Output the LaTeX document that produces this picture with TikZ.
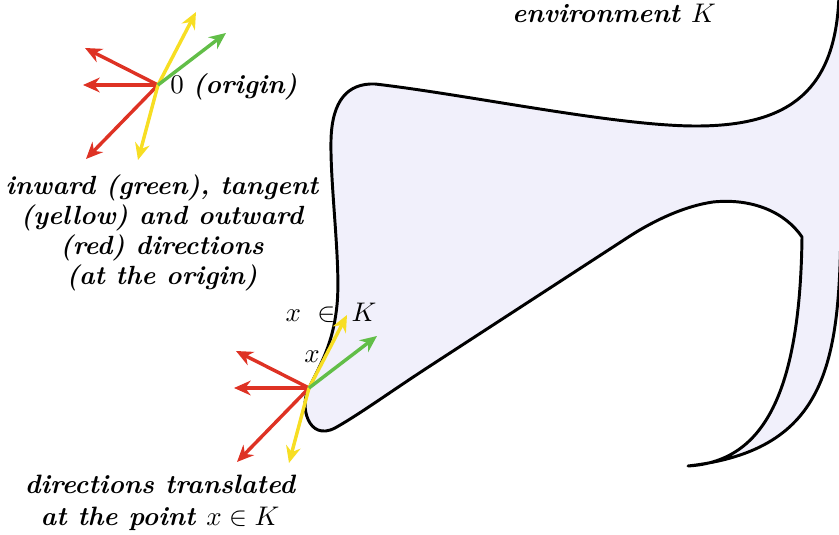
\documentclass[tikz,border=0pt]{standalone}
\usepackage{amsmath}
\usepackage{amssymb}
\usetikzlibrary{arrows.meta}
\definecolor{kred}{RGB}{222,50,36}
\definecolor{kyel}{RGB}{247,222,35}
\definecolor{kgrn}{RGB}{98,190,72}
\definecolor{kfill}{RGB}{241,240,251}
\tikzset{
  kdir/.style={line width=1.4pt,-{Stealth[length=6.8pt,width=6pt]}},
  kout/.style={kdir,kred},
  ktan/.style={kdir,kyel},
  kin/.style={kdir,kgrn},
  kbound/.style={line width=1.2pt,fill=kfill,line join=round},
  kfont/.style={font=\fontsize{10.8}{12.3}\selectfont},
  klab/.style={font=\fontsize{10.7}{12.3}\selectfont\bfseries\itshape,align=center},
}
\newcommand{\kfan}[1]{% #1 = point where the fan of directions sits
  \draw[kout] (#1) -- ++(-73,-37);
  \draw[kout] (#1) -- ++(-75,0);
  \draw[kout] (#1) -- ++(-72,74);
  \draw[ktan] (#1) -- ++(38,-73);
  \draw[ktan] (#1) -- ++(-20,75);
  \draw[kin] (#1) -- ++(68,-52);}

\begin{document}
\begin{tikzpicture}[x=0.0143cm,y=-0.0143cm]
\useasboundingbox (0,0) rectangle (839,535);
% ---- the environment K, cut by the frame on the right
\begin{scope}
  \clip (0,0) rectangle (839,535);
  \draw[kbound] (802,237)
    .. controls (785,212) and (752,198) .. (713,202)
    .. controls (685,206) and (655,220) .. (630,236)
    -- (430,366)
    .. controls (390,392) and (360,414) .. (335,428)
    .. controls (308,442) and (299,405) .. (309,388)
    .. controls (320,365) and (333,345) .. (337,305)
    .. controls (341,265) and (330,185) .. (331,140)
    .. controls (332,100) and (348,83) .. (375,84)
    .. controls (470,95) and (620,127) .. (700,126)
    .. controls (790,125) and (836,90) .. (839,-5)
    -- (870,-10) -- (870,215) -- (841,215)
    .. controls (840,360) and (830,450) .. (688,466)
    .. controls (760,462) and (800,400) .. (802,237)
    -- cycle;
\end{scope}
% ---- the two fans of directions
\coordinate (o) at (158,85);
\coordinate (x) at (309,388);
\kfan{o}
\kfan{x}
% ---- labels
\node[klab,font=\fontsize{10.9}{12.3}\selectfont\bfseries\itshape] (envlab) at (614,13) {environment \normalfont$K$};
\node[kfont,anchor=west,inner sep=0pt] (orilab) at (170,87) {$0$ \textbf{\textit{(origin)}}};
\node[klab] (dirlab) at (162,233) {inward (green), tangent\\(yellow) and outward\\(red) directions\\(at the origin)};
\node[kfont] (memlab) at (331,313) {$x\ \in\ K$};
\node[kfont] (ptlab) at (312,357) {$x$};
\node[klab,font=\fontsize{10.8}{13.2}\selectfont\bfseries\itshape] (translab) at (160,503) {directions translated\\at the point \normalfont$x\in K$};
\end{tikzpicture}
\end{document}
